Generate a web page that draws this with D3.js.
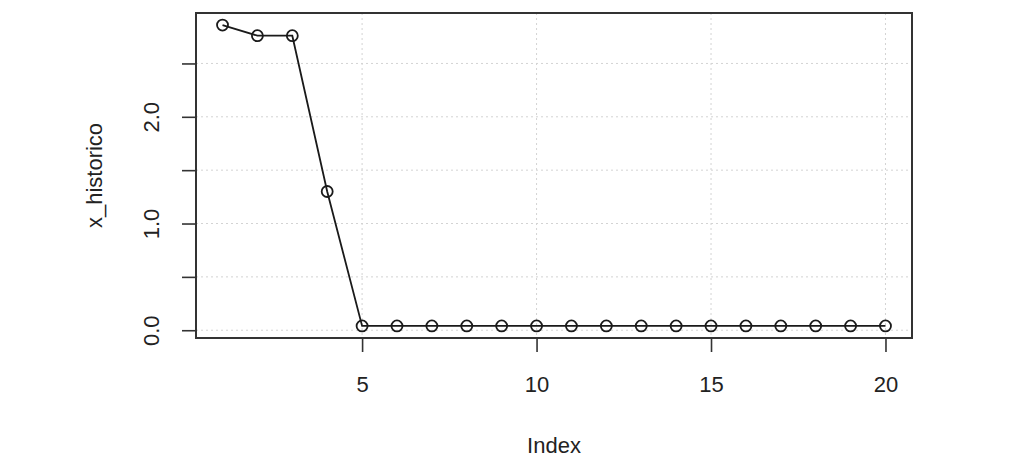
<!DOCTYPE html>
<html>
<head>
<meta charset="utf-8">
<script src="https://cdn.jsdelivr.net/npm/d3@7"></script>
<style>
  body { margin: 0; background: #fff; }
  text { font-family: "Liberation Sans", Arial, sans-serif; fill: #222; }
</style>
</head>
<body>
<div id="chart"></div>
<script>
// values
const indexValues = d3.range(1, 21);
const xHistorico = [2.86, 2.76, 2.76, 1.30, 0.04, 0.04, 0.04, 0.04, 0.04, 0.04,
                    0.04, 0.04, 0.04, 0.04, 0.04, 0.04, 0.04, 0.04, 0.04, 0.04];
const xTicks = [5, 10, 15, 20];
const yTicks = [0, 0.5, 1, 1.5, 2, 2.5];
const yTickLabels = { 0: '0.0', 1: '1.0', 2: '2.0' };

const cfg = {
  width: 1024,
  height: 467,
  box: { left: 196, right: 912, top: 13, bottom: 338 },
  fontSize: 22,
  tickLen: 14
};

const svg = d3.select('#chart')
  .append('svg')
  .attr('width', cfg.width)
  .attr('height', cfg.height);

// R style 4% padding on both ends
const pad = ext => {
  const d = (ext[1] - ext[0]) * 0.04;
  return [ext[0] - d, ext[1] + d];
};

const x = d3.scaleLinear()
  .domain(pad(d3.extent(indexValues)))
  .range([cfg.box.left, cfg.box.right]);

const y = d3.scaleLinear()
  .domain(pad(d3.extent(xHistorico)))
  .range([cfg.box.bottom, cfg.box.top]);

// grid
const grid = svg.append('g')
  .attr('stroke', '#d3d3d3')
  .attr('stroke-width', 1)
  .attr('stroke-dasharray', '2,3');

grid.selectAll('line.v')
  .data(xTicks)
  .enter()
  .append('line')
  .attr('x1', d => x(d)).attr('x2', d => x(d))
  .attr('y1', cfg.box.top).attr('y2', cfg.box.bottom);

grid.selectAll('line.h')
  .data(yTicks)
  .enter()
  .append('line')
  .attr('x1', cfg.box.left).attr('x2', cfg.box.right)
  .attr('y1', d => y(d)).attr('y2', d => y(d));

// line + points
const data = indexValues.map((idx, i) => ({ idx, v: xHistorico[i] }));

svg.append('path')
  .datum(data)
  .attr('fill', 'none')
  .attr('stroke', '#1a1a1a')
  .attr('stroke-width', 1.8)
  .attr('d', d3.line().x(d => x(d.idx)).y(d => y(d.v)));

svg.selectAll('circle.pt')
  .data(data)
  .enter()
  .append('circle')
  .attr('cx', d => x(d.idx))
  .attr('cy', d => y(d.v))
  .attr('r', 5.5)
  .attr('fill', 'none')
  .attr('stroke', '#1a1a1a')
  .attr('stroke-width', 1.8);

// axes
const xAxis = svg.append('g')
  .attr('transform', `translate(0,${cfg.box.bottom})`)
  .call(d3.axisBottom(x).tickValues(xTicks).tickSize(cfg.tickLen).tickPadding(24));

const yAxis = svg.append('g')
  .attr('transform', `translate(${cfg.box.left},0)`)
  .call(d3.axisLeft(y).tickValues(yTicks).tickSize(cfg.tickLen)
    .tickFormat(d => yTickLabels[d] || ''));

[xAxis, yAxis].forEach(g => {
  g.select('.domain').remove();
  g.selectAll('line').attr('stroke', '#333').attr('stroke-width', 1.6);
  g.selectAll('text')
    .style('font-size', cfg.fontSize + 'px')
    .attr('fill', '#222');
});

// rotate y tick labels like R (las=0)
yAxis.selectAll('.tick text')
  .attr('x', null).attr('dy', null)
  .attr('text-anchor', 'middle')
  .attr('transform', 'translate(-37,0) rotate(-90)');

// plot frame
svg.append('rect')
  .attr('x', cfg.box.left)
  .attr('y', cfg.box.top)
  .attr('width', cfg.box.right - cfg.box.left)
  .attr('height', cfg.box.bottom - cfg.box.top)
  .attr('fill', 'none')
  .attr('stroke', '#333')
  .attr('stroke-width', 2);

// axis titles
svg.append('text')
  .attr('x', (cfg.box.left + cfg.box.right) / 2)
  .attr('y', 453)
  .attr('text-anchor', 'middle')
  .style('font-size', cfg.fontSize + 'px')
  .text('Index');

svg.append('text')
  .attr('transform', `translate(102,${(cfg.box.top + cfg.box.bottom) / 2}) rotate(-90)`)
  .attr('text-anchor', 'middle')
  .style('font-size', cfg.fontSize + 'px')
  .text('x_historico');
</script>
</body>
</html>
